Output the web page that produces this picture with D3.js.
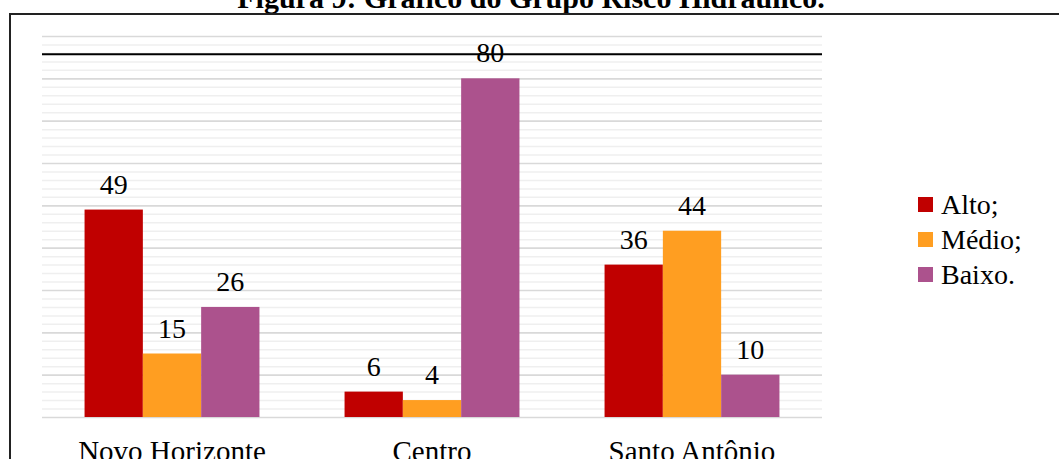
<!DOCTYPE html>
<html>
<head>
<meta charset="utf-8">
<script src="https://cdn.jsdelivr.net/npm/d3@7"></script>
<style>
  html, body { margin: 0; padding: 0; background: #fff; }
  svg { display: block; font-family: "Liberation Serif", "Times New Roman", serif; }
</style>
</head>
<body>
<svg id="chart" width="1059" height="459"></svg>
<script>
// Risk groups per neighbourhood
const categories = ["Novo Horizonte", "Centro", "Santo Antônio"];
const seriesNames = ["Alto;", "Médio;", "Baixo."];
const alto  = [49, 6, 36];
const medio = [15, 4, 44];
const baixo = [26, 80, 10];
const seriesColors = ["#C00000", "#FF9E21", "#AC528D"];
const minorTicks = d3.range(0, 91, 2);
const majorTicks = d3.range(0, 91, 10);
const ruleValue = 85.7;
const title = "Figura 9: Gráfico do Grupo Risco Hidráulico.";

const values = [alto, medio, baixo];
const rows = categories.map((c, i) => ({
  category: c,
  items: seriesNames.map((s, j) => ({ series: s, value: values[j][i], color: seriesColors[j] }))
}));

const svg = d3.select("#chart");
const W = 1059, H = 459;
const plot = { left: 42, right: 822, top: 36, bottom: 417 };

// Title above the frame
svg.append("text")
  .attr("x", 531).attr("y", 8)
  .attr("text-anchor", "middle")
  .attr("font-weight", "bold")
  .attr("font-size", 30)
  .attr("fill", "#000")
  .text(title);

// Frame around the chart
svg.append("rect")
  .attr("x", 10).attr("y", 14)
  .attr("width", W + 20).attr("height", H + 20)
  .attr("fill", "none")
  .attr("stroke", "#222")
  .attr("stroke-width", 2);

const x0 = d3.scaleBand().domain(categories).range([plot.left, plot.right]).padding(0);
const x1 = d3.scaleBand().domain(seriesNames).range([0, x0.bandwidth()])
  .paddingInner(0).paddingOuter(0.73);
const y = d3.scaleLinear().domain([0, 90]).range([plot.bottom, plot.top]);

// Minor gridlines
svg.append("g")
  .attr("transform", `translate(${plot.left},0)`)
  .call(d3.axisLeft(y).tickValues(minorTicks.filter(v => v % 10 !== 0))
    .tickSize(-(plot.right - plot.left)).tickFormat(""))
  .call(g => g.select(".domain").remove())
  .call(g => g.selectAll("line").attr("stroke", "#EFEFEF").attr("stroke-width", 1.5));

// Major gridlines
svg.append("g")
  .attr("transform", `translate(${plot.left},0)`)
  .call(d3.axisLeft(y).tickValues(majorTicks)
    .tickSize(-(plot.right - plot.left)).tickFormat(""))
  .call(g => g.select(".domain").remove())
  .call(g => g.selectAll("line").attr("stroke", "#D9D9D9").attr("stroke-width", 1.6));

// Bars
const groups = svg.append("g").selectAll("g")
  .data(rows).join("g")
  .attr("transform", d => `translate(${x0(d.category)},0)`);

groups.selectAll("rect")
  .data(d => d.items).join("rect")
  .attr("x", d => x1(d.series))
  .attr("y", d => y(d.value))
  .attr("width", x1.bandwidth())
  .attr("height", d => y(0) - y(d.value))
  .attr("fill", d => d.color);

// Dark rule across the plot
svg.append("line")
  .attr("x1", plot.left).attr("x2", plot.right)
  .attr("y1", y(ruleValue)).attr("y2", y(ruleValue))
  .attr("stroke", "#000").attr("stroke-width", 2);

// Value labels
groups.selectAll("text.val")
  .data(d => d.items).join("text")
  .attr("class", "val")
  .attr("x", d => x1(d.series) + x1.bandwidth() / 2)
  .attr("y", d => y(d.value) - 16)
  .attr("text-anchor", "middle")
  .attr("font-size", 28)
  .attr("fill", "#000")
  .text(d => d.value);

// Category labels
svg.append("g").selectAll("text")
  .data(categories).join("text")
  .attr("x", d => x0(d) + x0.bandwidth() / 2)
  .attr("y", 461)
  .attr("text-anchor", "middle")
  .attr("font-size", 29)
  .attr("fill", "#000")
  .text(d => d);

// Legend
const legend = svg.append("g").attr("transform", "translate(918,197)");
const li = legend.selectAll("g")
  .data(seriesNames).join("g")
  .attr("transform", (d, i) => `translate(0,${i * 35})`);
li.append("rect")
  .attr("width", 15).attr("height", 15)
  .attr("fill", (d, i) => seriesColors[i]);
li.append("text")
  .attr("x", 23).attr("y", 17)
  .attr("font-size", 28)
  .attr("fill", "#000")
  .text(d => d);
</script>
</body>
</html>
